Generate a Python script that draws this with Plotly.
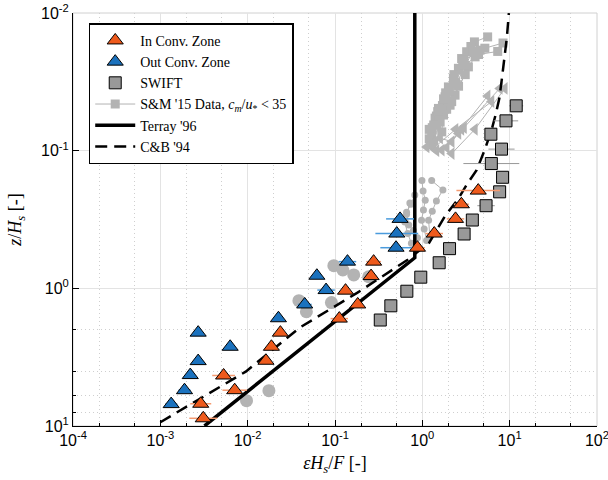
import plotly.graph_objects as go

# ---------------- data ----------------
in_x = [3.1e-3, 2.9e-3, 5.3e-3, 7.1e-3, 0.0162, 0.0187, 0.0237, 0.112, 0.132, 0.182,
        0.259, 0.277, 0.88, 1.37, 2.4, 2.8, 4.37]
in_y = [8.8, 6.9, 4.3, 5.5, 3.36, 2.66, 2.1, 1.66, 1.04, 1.31,
        0.815, 0.64, 0.507, 0.40, 0.313, 0.245, 0.195]
in_xerr_dec = [0.16, 0.12, 0.13, 0.14, 0.04, 0.04, 0.04, 0.10, 0.05, 0.05,
               0.06, 0.085, 0.085, 0.10, 0.10, 0.085, 0.25]

out_x = [1.33e-3, 1.89e-3, 2.2e-3, 2.71e-3, 2.71e-3, 6.3e-3, 0.0225, 0.045, 0.079, 0.062,
         0.139, 0.50, 0.51, 0.556]
out_y = [6.94, 5.5, 4.27, 3.38, 2.1, 2.66, 1.65, 1.31, 1.03, 0.81,
         0.64, 0.507, 0.40, 0.313]
out_xerr_dec = [0.07, 0.07, 0.04, 0.04, 0.04, 0.04, 0.04, 0.08, 0.10, 0.04,
                0.10, 0.18, 0.245, 0.16]

swift_x = [0.330, 0.436, 0.665, 0.96, 1.56, 2.05, 3.01, 3.74, 5.37, 7.68,
           8.3, 6.17, 8.07, 6.1, 9.08, 11.9]
swift_y = [1.70, 1.34, 1.05, 0.83, 0.652, 0.515, 0.403, 0.319, 0.251, 0.199,
           0.156, 0.124, 0.0974, 0.0759, 0.0607, 0.0472]
swift_xerr_dec = [0.03, 0.03, 0.03, 0.03, 0.04, 0.05, 0.05, 0.07, 0.10, 0.07,
                  0.07, 0.32, 0.15, 0.05, 0.14, 0.08]

terray_x = [3.2e-3, 0.82, 0.82]
terray_y = [10.0, 0.6, 0.01]

cb_x = [1.0e-3, 9.5e-3, 0.040, 0.179, 0.68, 1.2, 1.82, 2.6, 3.2, 4.2, 5.2, 6.2, 6.9, 7.6, 8.1, 8.8, 9.3, 9.8]
cb_y = [9.4, 4.03, 1.92, 1.08, 0.62, 0.466, 0.298, 0.222, 0.178, 0.138, 0.098, 0.071, 0.055, 0.042, 0.031, 0.021, 0.015, 0.01]

# S&M '15 profiles (upper cluster: squares)
sm_sq_profiles = [
    ([1.40, 1.82, 2.27, 2.82, 3.95, 5.6], [0.058, 0.0406, 0.0299, 0.0214, 0.0162, 0.0149]),
    ([1.28, 1.53, 1.99, 2.59, 3.22, 4.58], [0.077, 0.0493, 0.0344, 0.0252, 0.0191, 0.0186]),
    ([1.46, 2.08, 2.37, 3.37, 4.02], [0.0652, 0.0467, 0.0395, 0.0246, 0.0208]),
    ([1.67, 1.75, 2.17, 2.6, 3.1], [0.073, 0.0551, 0.044, 0.034, 0.028]),
    ([1.35, 1.6, 2.6, 4.4, 7.3], [0.085, 0.062, 0.026, 0.020, 0.019]),
    ([1.9, 3.0, 5.2, 8.4], [0.05, 0.022, 0.018, 0.0165]),
    ([1.2, 1.45, 1.7, 2.0, 2.4], [0.07, 0.056, 0.047, 0.037, 0.032]),
    ([1.3, 1.5, 1.85, 2.3, 2.9, 3.6], [0.068, 0.052, 0.038, 0.028, 0.022, 0.0175]),
    ([1.55, 1.95, 2.45, 3.1, 3.8], [0.06, 0.044, 0.033, 0.024, 0.019]),
    ([1.2, 1.35, 1.55, 1.75], [0.082, 0.065, 0.05, 0.042]),
]
# S&M '15 profiles (left-pointing triangles)
sm_tri_profiles = [
    ([1.34, 2.4, 6.2], [0.096, 0.07, 0.044]),
    ([1.67, 3.0, 7.7], [0.099, 0.068, 0.0353]),
    ([2.17, 4.0, 8.8], [0.105, 0.07, 0.0353]),
    ([1.25, 1.6, 2.17, 2.59], [0.09, 0.081, 0.086, 0.075]),
    ([1.12, 1.45, 1.9, 2.8, 5.6], [0.094, 0.1, 0.095, 0.07, 0.04]),
]
# S&M '15 profiles (small circles)
sm_circ_profiles = [
    ([1.28, 1.72, 1.45, 1.30, 1.18, 1.22], [0.165, 0.193, 0.232, 0.275, 0.32, 0.42]),
    ([0.99, 1.02, 1.08, 1.03, 0.98, 1.05, 1.12], [0.165, 0.196, 0.229, 0.27, 0.32, 0.37, 0.45]),
    ([0.82, 0.74, 0.66, 0.70, 0.79, 0.88], [0.21, 0.245, 0.28, 0.347, 0.38, 0.43]),
    ([0.72, 0.66, 0.63, 0.68, 0.75], [0.24, 0.29, 0.33, 0.40, 0.47]),
]
# S&M '15 large circles
sm_big_x = [0.0097, 0.0175, 0.0386, 0.047, 0.091, 0.097, 0.123, 0.164, 0.243]
sm_big_y = [6.55, 5.54, 1.23, 1.48, 1.27, 0.685, 0.736, 0.80, 0.824]

x_tickvals = [1e-4, 1e-3, 1e-2, 1e-1, 1e0, 1e1, 1e2]
x_ticktext = ['10<sup>-4</sup>', '10<sup>-3</sup>', '10<sup>-2</sup>', '10<sup>-1</sup>',
              '10<sup>0</sup>', '10<sup>1</sup>', '10<sup>2</sup>']
y_tickvals = [1e-2, 1e-1, 1e0, 1e1]
y_ticktext = ['10<sup>-2</sup>', '10<sup>-1</sup>', '10<sup>0</sup>', '10<sup>1</sup>']

# ---------------- styles ----------------
ORANGE = '#EE5A1C'
BLUE = '#1B72BE'
GREY = '#b3b3b3'
SERIF = 'Liberation Serif'
SANS = 'Liberation Sans'


def err(xs, decs):
    plus = [x * (10 ** d - 1) for x, d in zip(xs, decs)]
    minus = [x * (1 - 10 ** (-d)) for x, d in zip(xs, decs)]
    return plus, minus


fig = go.Figure()

first = True
for xs, ys in sm_sq_profiles:
    fig.add_trace(go.Scatter(x=xs, y=ys, mode='lines+markers',
                             line=dict(color=GREY, width=1),
                             marker=dict(symbol='square', size=9, color=GREY),
                             name="S&amp;M '15 Data, <i>c<sub>m</sub></i>/<i>u</i><sub>*</sub> &lt; 35",
                             showlegend=first, legendrank=4))
    first = False
for xs, ys in sm_tri_profiles:
    fig.add_trace(go.Scatter(x=xs, y=ys, mode='lines+markers',
                             line=dict(color=GREY, width=1),
                             marker=dict(symbol='triangle-left', size=11, color=GREY),
                             showlegend=False))
for xs, ys in sm_circ_profiles:
    fig.add_trace(go.Scatter(x=xs, y=ys, mode='lines+markers',
                             line=dict(color=GREY, width=1),
                             marker=dict(symbol='circle', size=7, color=GREY),
                             showlegend=False))
fig.add_trace(go.Scatter(x=sm_big_x, y=sm_big_y, mode='markers',
                         marker=dict(symbol='circle', size=13, color=GREY),
                         showlegend=False))

fig.add_trace(go.Scatter(x=terray_x, y=terray_y, mode='lines',
                         line=dict(color='black', width=3.5),
                         name="Terray '96", legendrank=5))
fig.add_trace(go.Scatter(x=cb_x, y=cb_y, mode='lines',
                         line=dict(color='black', width=2.5, dash='12px,7px'),
                         name="C&amp;B '94", legendrank=6))

p, m = err(swift_x, swift_xerr_dec)
fig.add_trace(go.Scatter(x=swift_x, y=swift_y, mode='markers',
                         marker=dict(symbol='square', size=12, color='#999999',
                                     line=dict(color='black', width=1)),
                         error_x=dict(type='data', array=p, arrayminus=m, symmetric=False,
                                      color='#999999', thickness=1, width=0),
                         name='SWIFT', legendrank=3))

p, m = err(in_x, in_xerr_dec)
fig.add_trace(go.Scatter(x=in_x, y=in_y, mode='markers',
                         marker=dict(symbol='triangle-up', size=14, color=ORANGE,
                                     line=dict(color='black', width=1)),
                         error_x=dict(type='data', array=p, arrayminus=m, symmetric=False,
                                      color='#F59A70', thickness=1.5, width=0),
                         name='In Conv. Zone', legendrank=1))

p, m = err(out_x, out_xerr_dec)
fig.add_trace(go.Scatter(x=out_x, y=out_y, mode='markers',
                         marker=dict(symbol='triangle-up', size=14, color=BLUE,
                                     line=dict(color='black', width=1)),
                         error_x=dict(type='data', array=p, arrayminus=m, symmetric=False,
                                      color='#4A9BDD', thickness=1.5, width=0),
                         name='Out Conv. Zone', legendrank=2))

axis_common = dict(
    type='log', tickmode='array', automargin=False, ticklabeloverflow='allow',
    showgrid=True, gridcolor='#e3e3e3', gridwidth=1,
    ticks='inside', ticklen=6, tickcolor='black', tickwidth=1,
    showline=True, linecolor='black', linewidth=1, mirror=False,
    tickfont=dict(family=SANS, size=16, color='black'),
    minor=dict(ticks='inside', ticklen=3, tickcolor='black', showgrid=True,
               gridcolor='#cfcfcf', griddash='1px,3px', gridwidth=1),
    zeroline=False,
)

fig.update_xaxes(range=[-4.0005, 2.0005], tickvals=x_tickvals, ticktext=x_ticktext,
                 title=dict(text='<i>εH<sub>s</sub></i>/<i>F</i> [-]',
                            font=dict(family=SERIF, size=18, color='black'), standoff=8),
                 **axis_common)
fig.update_yaxes(range=[1.0005, -2.0005], tickvals=y_tickvals, ticktext=y_ticktext,
                 title=dict(text='<i>z</i>/<i>H<sub>s</sub></i> [-]',
                            font=dict(family=SERIF, size=18, color='black'), standoff=14),
                 **axis_common)

fig.add_shape(type='rect', xref='paper', yref='paper', x0=0, x1=1, y0=0, y1=1,
              line=dict(color='#d0d0d0', width=1), layer='below')

fig.update_layout(
    width=608, height=480,
    margin=dict(l=73, r=11, t=13, b=54),
    plot_bgcolor='white', paper_bgcolor='white',
    legend=dict(x=0.03, y=0.975, xanchor='left', yanchor='top',
                bgcolor='white', bordercolor='black', borderwidth=1.5,
                font=dict(family=SERIF, size=14, color='black'),
                itemwidth=40, tracegroupgap=0),
)

fig.write_html('out.html', config={'displayModeBar': False},
               post_script="document.body.style.margin='0px';document.body.style.padding='0px';")
